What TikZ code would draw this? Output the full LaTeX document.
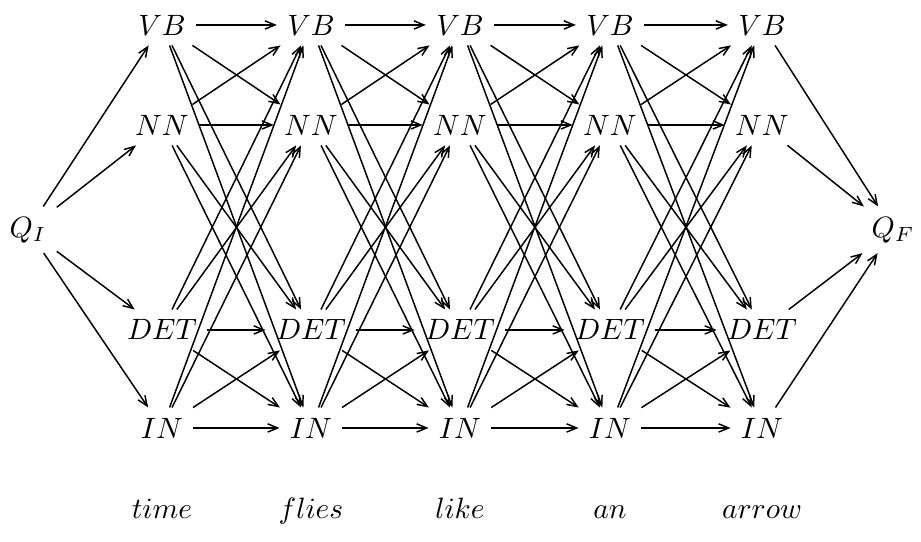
\documentclass[tikz,border=0pt]{standalone}
\usepackage{tikz}
\usetikzlibrary{arrows.meta}

\begin{document}
\begin{tikzpicture}[x=0.34pt, y=-0.34pt,
  tag/.style={anchor=base},
  trans/.style={-{Straight Barb[length=3.4pt,width=2.8pt]}, line width=0.5pt}]
\useasboundingbox (0,0) rectangle (921,542);
% start and end states
\node[tag] (QI) at (28,237) {$Q_I$};
\node[tag] (QF) at (893,237) {$Q_F$};
% one column of tags per word
\foreach \c/\x in {1/162, 2/311, 3/460, 4/610, 5/762} {
  \foreach \t/\y in {VB/35, NN/135, DET/340, IN/438} {
    \node[tag] (\t\c) at (\x,\y) {$\t$};
  }
}
\node[tag] (w1) at (162,518) {$time$};
\node[tag] (w2) at (311,518) {$flies$};
\node[tag] (w3) at (460,518) {$like$};
\node[tag] (w4) at (610,518) {$an$};
\node[tag] (w5) at (762,518) {$arrow$};
% transitions
\foreach \a in {VB, NN, DET, IN} {
  \draw[trans] (QI) -- (\a1);
  \draw[trans] (\a5) -- (QF);
}
\foreach \c [evaluate=\c as \d using int(\c+1)] in {1,...,4} {
  \foreach \a in {VB, NN, DET, IN} {
    \foreach \b in {VB, NN, DET, IN} {
      \draw[trans] (\a\c) -- (\b\d);
    }
  }
}
\end{tikzpicture}
\end{document}
